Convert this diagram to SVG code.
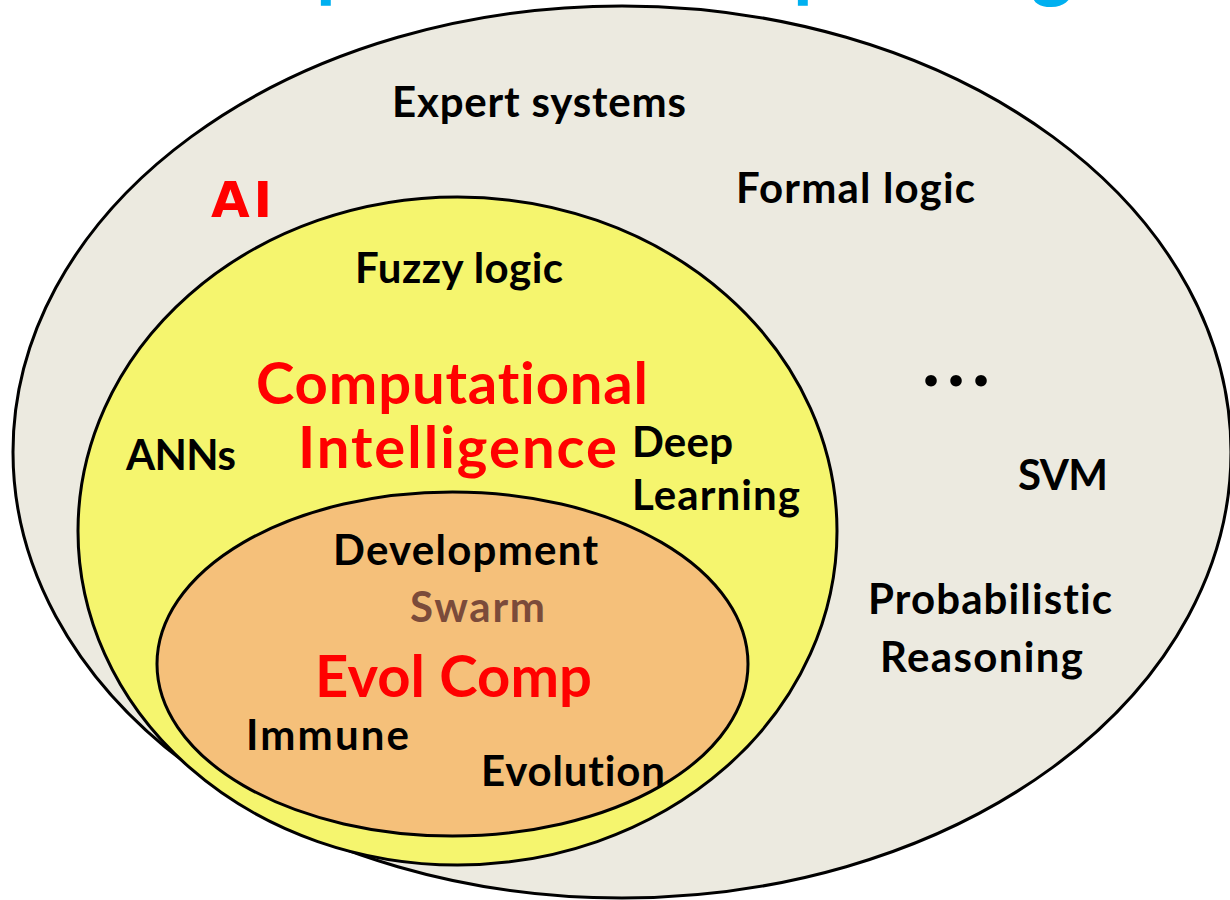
<svg xmlns="http://www.w3.org/2000/svg" width="1230" height="900" viewBox="0 0 1230 900">
  <style>
    text { font-variant-ligatures: none; font-feature-settings: "liga" 0, "dlig" 0; }
    .lbl { font-family: Lato, "Open Sans", "Liberation Sans", sans-serif; font-weight: 700; font-size: 42px; fill: #000000; }
    .big { font-family: Lato, "Open Sans", "Liberation Sans", sans-serif; font-weight: 700; font-size: 58px; fill: #FF0000; }
    .swarm { fill: #7B4B3A; }
    .dots { font-size: 76px; }
    .ring { stroke: #000000; stroke-width: 3; }
    .title { font-family: Lato, "Open Sans", "Liberation Sans", sans-serif; font-weight: 700; font-size: 80px; fill: #00B0F0; }
  </style>
  <rect width="1230" height="900" fill="#FFFFFF"/>

  <!-- heading, mostly above the top edge -->
  <text class="title" x="316 793 1031" y="-8">ppg</text>

  <g id="ai">
    <ellipse class="ring" cx="622" cy="452" rx="609" ry="446" fill="#ECEAE0"/>
    <text x="211" y="217" font-family="'DejaVu Sans', Verdana, sans-serif" font-weight="700" font-size="50" fill="#FF0000" textLength="61">AI</text>
    <text class="lbl" x="392" y="117" textLength="294">Expert systems</text>
    <text class="lbl" x="736" y="203" textLength="239">Formal logic</text>
    <text class="lbl dots" x="922" y="386" textLength="68">...</text>
    <text class="lbl" x="1018" y="490" textLength="90">SVM</text>
    <text class="lbl" x="868" y="614" textLength="244">Probabilistic</text>
    <text class="lbl" x="880" y="672" textLength="203">Reasoning</text>
  </g>

  <g id="computational-intelligence">
    <ellipse class="ring" cx="457.5" cy="531" rx="379.5" ry="334" fill="#F5F56E"/>
    <text class="lbl" x="355" y="283" textLength="208">Fuzzy logic</text>
    <text class="big" x="256" y="404" textLength="392">Computational</text>
    <text class="big" x="298" y="468" textLength="319">Intelligence</text>
    <text class="lbl" x="126" y="470" textLength="110">ANNs</text>
    <text class="lbl" x="632" y="457" textLength="101">Deep</text>
    <text class="lbl" x="632" y="510" textLength="168">Learning</text>
  </g>

  <g id="evol-comp">
    <ellipse class="ring" cx="452.5" cy="664" rx="295.5" ry="172" fill="#F5C07A"/>
    <text class="lbl" x="333" y="565" textLength="265">Development</text>
    <text class="lbl swarm" x="410" y="622" textLength="135">Swarm</text>
    <text class="big" x="315" y="697" textLength="277">Evol Comp</text>
    <text class="lbl" x="246" y="750" textLength="163">Immune</text>
    <text class="lbl" x="481" y="786" textLength="184">Evolution</text>
  </g>

  <g id="connectors"/>
</svg>
